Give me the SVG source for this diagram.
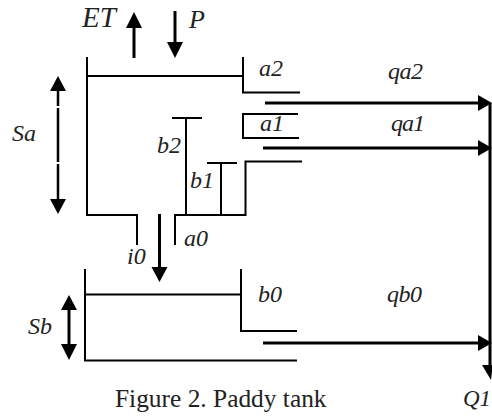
<svg xmlns="http://www.w3.org/2000/svg" width="492" height="417" viewBox="0 0 492 417">
<defs>
<style>
.l{fill:none;stroke:#000;stroke-width:2}
.t{fill:none;stroke:#000;stroke-width:2.5}
.a{fill:none;stroke:#000;stroke-width:3}
.h{fill:#000;stroke:none}
text{font-family:"Liberation Serif","Times New Roman",serif;fill:#222}
.i{font-style:italic;font-size:24px}
</style>
</defs>
<rect width="492" height="417" fill="#fff"/>
<g id="upper-tank">
<path class="l" d="M87 57V215H137V245M87 76H243M243 57V92.500H300"/>
<path class="l" d="M298 114H243V138H299"/>
<path class="l" d="M302 161.500H245.500V215H175V245"/>
</g>
<g id="b2"><path class="l" d="M186 215V118M172 118H202"/><text class="i" x="157" y="153">b2</text></g>
<g id="b1"><path class="l" d="M221 215V163M207 163H237"/><text class="i" x="190" y="188">b1</text></g>
<g id="lower-tank">
<path class="l" d="M85 269V360.500H297M85 294.500H241M241 269V331H297"/>
</g>
<g id="connectors">
<path class="a" d="M134 58V26"/><polygon class="h" points="134,12 142,28 126,28"/>
<path class="a" d="M175 11V44"/><polygon class="h" points="175,58 167,42 183,42"/>
<path class="t" d="M58 90V106M58 108V162M58 164V200"/>
<polygon class="h" points="58,76 66,91 50,91"/><polygon class="h" points="58,214 66,199 50,199"/>
<path class="a" d="M159.500 214V270"/><polygon class="h" points="159.500,282 151.500,267 167.500,267"/>
<path class="a" d="M69 308V346"/>
<polygon class="h" points="69,295 77,310 61,310"/><polygon class="h" points="69,360 77,344 61,344"/>
<path class="a" d="M265 103H480"/><polygon class="h" points="492,103 478,95 478,111"/>
<path class="a" d="M263 148H480"/><polygon class="h" points="492,148 478,140 478,156"/>
<path class="a" d="M263 343H480"/><polygon class="h" points="492,343 478,335 478,351"/>
<path class="a" d="M490 103V367"/><polygon class="h" points="491,380 482,365 492,365 492,372"/>
</g>
<g id="labels">
<text class="i" x="82" y="27" style="font-size:29px">ET</text>
<text class="i" x="189" y="28" style="font-size:26px">P</text>
<text class="i" x="259" y="76">a2</text>
<text class="i" x="260" y="131">a1</text>
<text class="i" x="388" y="79" textLength="35">qa2</text>
<text class="i" x="391" y="131" textLength="34">qa1</text>
<text class="i" x="12" y="141">Sa</text>
<text class="i" x="184" y="246">a0</text>
<text class="i" x="127" y="264">i0</text>
<text class="i" x="258" y="302">b0</text>
<text class="i" x="387" y="302" textLength="35">qb0</text>
<text class="i" x="28" y="334">Sb</text>
<text x="115" y="407" font-size="25.400">Figure 2. Paddy tank</text>
<text class="i" x="463" y="406" style="font-size:23px">Q1</text>
</g>
</svg>
